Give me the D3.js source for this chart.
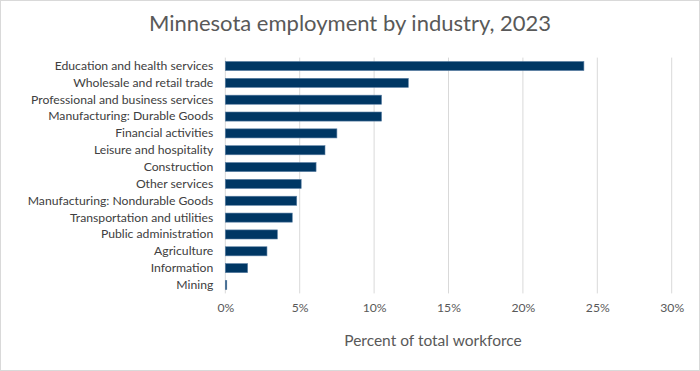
<!DOCTYPE html>
<html>
<head>
<meta charset="utf-8">
<script src="https://cdn.jsdelivr.net/npm/d3@7/dist/d3.min.js"></script>
<style>
  html, body { margin: 0; padding: 0; background: #fff; }
  svg { display: block; font-family: Lato, "Open Sans", sans-serif; }
</style>
</head>
<body>
<svg id="chart" width="700" height="371"></svg>
<script>
const categories = [
  "Education and health services",
  "Wholesale and retail trade",
  "Professional and business services",
  "Manufacturing: Durable Goods",
  "Financial activities",
  "Leisure and hospitality",
  "Construction",
  "Other services",
  "Manufacturing: Nondurable Goods",
  "Transportation and utilities",
  "Public administration",
  "Agriculture",
  "Information",
  "Mining"
];
const values = [24.1, 12.3, 10.5, 10.5, 7.5, 6.7, 6.1, 5.1, 4.8, 4.5, 3.5, 2.8, 1.5, 0.1];
const tickValues = [0, 5, 10, 15, 20, 25, 30];
const title = "Minnesota employment by industry, 2023";
const xTitle = "Percent of total workforce";

const svg = d3.select("#chart");
const W = 700, H = 371;

svg.append("rect").attr("x", 0.5).attr("y", 0.5).attr("width", W - 1).attr("height", H - 1)
  .attr("fill", "#fff").attr("stroke", "#d9d9d9");

const x = d3.scaleLinear().domain([0, 30]).range([225.3, 671.7]);
const y = d3.scaleBand().domain(categories).range([57.6, 293.4]).paddingInner(0.46).paddingOuter(0.23);

// gridlines
svg.append("g").selectAll("line").data(tickValues).join("line")
  .attr("x1", d => x(d)).attr("x2", d => x(d))
  .attr("y1", 57.6).attr("y2", 293.4)
  .attr("stroke", "#d9d9d9").attr("stroke-width", 1);

// bars
svg.append("g").selectAll("rect").data(values).join("rect")
  .attr("x", x(0))
  .attr("y", (d, i) => y(categories[i]))
  .attr("width", d => x(d) - x(0))
  .attr("height", y.bandwidth())
  .attr("fill", "#003764")
  .attr("stroke", "#5a7fa3").attr("stroke-width", 0.6);

// category labels
const yAxis = d3.axisLeft(y).tickSize(0).tickPadding(12);
const gy = svg.append("g").attr("transform", `translate(${x(0)},0)`).call(yAxis);
gy.select(".domain").remove();
gy.selectAll("text").attr("fill", "#404040").attr("font-size", 12.2)
  .attr("font-family", "Lato, 'Open Sans', sans-serif");

// x axis labels
const xAxis = d3.axisBottom(x).tickValues(tickValues).tickFormat(d => d + "%").tickSize(0).tickPadding(8);
const gx = svg.append("g").attr("transform", `translate(0,295)`).call(xAxis);
gx.select(".domain").remove();
gx.selectAll("text").attr("fill", "#595959").attr("font-size", 12.2)
  .attr("font-family", "Lato, 'Open Sans', sans-serif");

// title
svg.append("text").attr("x", 350).attr("y", 31).attr("text-anchor", "middle")
  .attr("fill", "#595959").attr("font-size", 22).text(title);

// x title
svg.append("text").attr("x", 433).attr("y", 346).attr("text-anchor", "middle")
  .attr("fill", "#595959").attr("font-size", 15.5).text(xTitle);
</script>
</body>
</html>
